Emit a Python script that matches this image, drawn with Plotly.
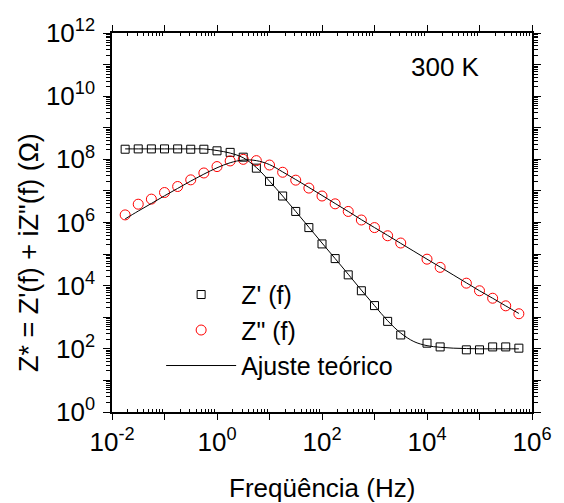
import plotly.graph_objects as go

# Frequencies (Hz) of measured points
freq = [1.78e-2, 3.16e-2, 5.62e-2, 1.0e-1, 1.78e-1, 3.16e-1, 5.62e-1,
        1.0, 1.78, 3.16, 5.62, 1.0e1, 1.78e1, 3.16e1, 5.62e1, 1.0e2,
        1.78e2, 3.16e2, 5.62e2, 1.0e3, 1.78e3, 3.16e3,
        1.0e4, 1.78e4, 5.62e4, 1.0e5, 1.78e5, 3.16e5, 5.62e5]

z_real = [2.09e8, 2.14e8, 2.14e8, 2.14e8, 2.14e8, 2.09e8, 2.09e8,
          1.86e8, 1.66e8, 1.17e8, 5.25e7, 2.0e7, 6.9e6, 2.24e6, 6.9e5, 2.1e5,
          7.2e4, 2.2e4, 6.9e3, 2.34e3, 741, 275,
          151, 115, 93, 93, 115, 115, 105]

z_imag = [1.74e6, 3.8e6, 5.5e6, 8.9e6, 1.38e7, 2.24e7, 3.7e7,
          5.9e7, 8.9e7, 1.0e8, 9.1e7, 6.6e7, 3.9e7, 2.19e7, 1.23e7, 6.9e6,
          3.9e6, 2.24e6, 1.2e6, 6.9e5, 3.8e5, 2.24e5,
          6.9e4, 3.8e4, 1.2e4, 6.9e3, 4.0e3, 2.3e3, 1.29e3]

# Theoretical fit curves
fit_freq = [1.78e-2, 3.16e-2, 5.62e-2, 1.0e-1, 1.78e-1, 3.16e-1, 5.62e-1,
            1.0, 1.78, 3.16, 5.62, 1.0e1, 1.78e1, 3.16e1, 5.62e1, 1.0e2,
            1.78e2, 3.16e2, 5.62e2, 1.0e3, 1.78e3, 3.16e3, 5.62e3,
            1.0e4, 1.78e4, 3.16e4, 5.62e4, 1.0e5, 1.78e5, 3.16e5, 5.62e5]

fit_real = [2.14e8, 2.14e8, 2.14e8, 2.14e8, 2.14e8, 2.14e8, 2.14e8,
            1.9e8, 1.58e8, 1.12e8, 5.5e7, 2.04e7, 6.9e6, 2.24e6, 7.1e5, 2.24e5,
            7.2e4, 2.3e4, 7.2e3, 2.34e3, 776, 316, 170,
            126, 112, 105, 102, 100, 100, 100, 100]

fit_imag = [1.3e6, 2.3e6, 4.0e6, 7.0e6, 1.2e7, 2.05e7, 3.4e7,
            5.4e7, 7.8e7, 9.5e7, 9.1e7, 6.8e7, 4.0e7, 2.29e7, 1.29e7, 7.2e6,
            4.0e6, 2.24e6, 1.23e6, 6.9e5, 3.9e5, 2.19e5, 1.23e5,
            6.9e4, 3.9e4, 2.19e4, 1.23e4, 6.9e3, 4.0e3, 2.29e3, 1.32e3]

x_exps = [-2, -1, 0, 1, 2, 3, 4, 5, 6]
y_exps = list(range(0, 13))

FONT = "Liberation Sans, Arial, sans-serif"

fig = go.Figure()
fig.add_trace(go.Scatter(x=freq, y=z_real, mode="markers", name="Z' (f)",
                         marker=dict(symbol="square-open", size=8, color="black",
                                     line=dict(width=1, color="black"))))
fig.add_trace(go.Scatter(x=freq, y=z_imag, mode="markers", name='Z" (f)',
                         marker=dict(symbol="circle-open", size=10, color="red",
                                     line=dict(width=1, color="red"))))
fig.add_trace(go.Scatter(x=fit_freq, y=fit_real, mode="lines", name="Ajuste teórico",
                         line=dict(color="black", width=1, shape="spline")))
fig.add_trace(go.Scatter(x=fit_freq, y=fit_imag, mode="lines", showlegend=False,
                         line=dict(color="black", width=1, shape="spline")))

x_minor = [m * 10.0 ** e for e in x_exps[:-1] for m in range(2, 10)]
y_minor = [m * 10.0 ** e for e in y_exps[:-1] for m in range(2, 10)]

fig.update_xaxes(type="log", range=[-2, 6],
                 tickmode="array",
                 tickvals=[10.0 ** e for e in x_exps],
                 ticktext=[("10<sup>%d</sup>" % e) if e % 2 == 0 else "" for e in x_exps],
                 ticks="outside", ticklen=6, tickwidth=1.2, tickcolor="black",
                 minor=dict(tickmode="array", tickvals=x_minor, ticks="inside",
                            ticklen=3, tickwidth=1, tickcolor="black"),
                 showline=True, linecolor="black", linewidth=1.5, mirror="ticks",
                 showgrid=False, zeroline=False,
                 tickfont=dict(family=FONT, size=26, color="black"))
fig.update_yaxes(type="log", range=[0, 12],
                 tickmode="array",
                 tickvals=[10.0 ** e for e in y_exps],
                 ticktext=[("10<sup>%d</sup>" % e) if e % 2 == 0 else "" for e in y_exps],
                 ticks="outside", ticklen=7, tickwidth=1.2, tickcolor="black",
                 minor=dict(tickmode="array", tickvals=y_minor, ticks="outside",
                            ticklen=4, tickwidth=1, tickcolor="black"),
                 showline=True, linecolor="black", linewidth=1.5, mirror="ticks",
                 showgrid=False, zeroline=False, ticklabelstandoff=3,
                 tickfont=dict(family=FONT, size=26, color="black"))

fig.add_annotation(text="300 K", x=0.793, y=0.911, xref="paper", yref="paper",
                   xanchor="center", yanchor="middle",
                   showarrow=False, font=dict(family=FONT, size=26, color="black"))
fig.add_annotation(text="Freqüência (Hz)", x=0.5, y=-0.201, xref="paper", yref="paper",
                   xanchor="center", yanchor="middle",
                   showarrow=False, font=dict(family=FONT, size=26, color="black"))
fig.add_annotation(text='Z* = Z\'(f) + iZ"(f) (Ω)', x=-0.197, y=0.42,
                   xref="paper", yref="paper", textangle=-90,
                   xanchor="center", yanchor="middle",
                   showarrow=False, font=dict(family=FONT, size=27, color="black"))

fig.update_layout(width=564, height=503,
                  margin=dict(l=112, r=21, t=33, b=91),
                  paper_bgcolor="white", plot_bgcolor="white",
                  showlegend=True,
                  legend=dict(x=0.117, y=0.37, xanchor="left", yanchor="top",
                              bgcolor="rgba(0,0,0,0)", itemwidth=70,
                              font=dict(family=FONT, size=25, color="black"),
                              tracegroupgap=0))

fig.write_html("out.html")
